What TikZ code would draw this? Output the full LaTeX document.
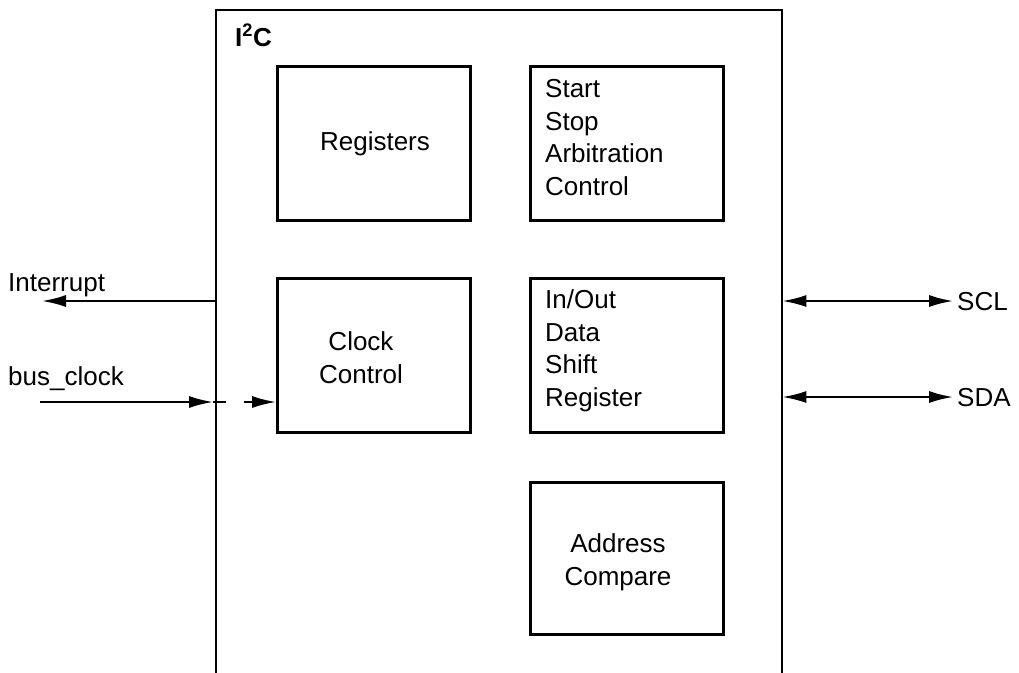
\documentclass[tikz,border=0pt]{standalone}
\usepackage{fontspec}
\setmainfont{Liberation Sans}
\usetikzlibrary{arrows.meta}
\begin{document}
\begin{tikzpicture}[x=1pt,y=-1pt,
  every node/.style={font=\fontsize{26}{32.5}\selectfont},
  blk/.style={draw, line width=3pt, minimum width=193pt, inner sep=0pt},
  txt/.style={inner sep=0pt, align=left},
  ctxt/.style={inner sep=0pt, align=center},
  wire/.style={line width=2pt},
  tip/.style={-{Latex[length=24pt,width=12pt]}},
  dtip/.style={{Latex[length=24pt,width=12pt]}-{Latex[length=24pt,width=12pt]}}]
\useasboundingbox (0,0) rectangle (1019,672);
% outer block (open at the bottom)
\node[inner sep=0pt, minimum width=566pt, minimum height=680pt, anchor=north west] (outer) at (216,10) {};
\draw[wire] (outer.south west) |- (outer.north east) -- (outer.south east);
\node[inner sep=0pt, anchor=base west, font=\bfseries\fontsize{26}{30}\selectfont] (title) at (235,46) {I\textsuperscript{2}C};
% inner blocks
\node[blk, minimum height=154pt] (reg) at (374,143) {};
\node[blk, minimum height=154pt] (ssa) at (626.5,143) {};
\node[blk, minimum height=154pt] (clk) at (374,355) {};
\node[blk, minimum height=154pt] (io) at (626.5,355) {};
\node[blk, minimum height=152pt] (adr) at (626.5,558) {};
% texts (base anchor = baseline of the last line)
\node[ctxt, anchor=base] (tReg) at (375,150) {Registers};
\node[txt, anchor=base west] (tSsa) at (545,195) {Start\\Stop\\Arbitration\\Control};
\node[ctxt, anchor=base] (tClk) at (361,383) {Clock\\Control};
\node[txt, anchor=base west] (tIo) at (545,406) {In/Out\\Data\\Shift\\Register};
\node[ctxt, anchor=base] (tAdr) at (618,585) {Address\\Compare};
% signals
\node[txt, anchor=base west] (lInt) at (8,291) {Interrupt};
\node[txt, anchor=base west] (lBus) at (8,385) {bus\_clock};
\node[txt, anchor=base west] (lScl) at (957,310) {SCL};
\node[txt, anchor=base west] (lSda) at (957,406) {SDA};
\coordinate (intEnd) at (42,301);
\coordinate (busStart) at (40,402);
\coordinate (sclEnd) at (953,301);
\coordinate (sdaEnd) at (953,397);
\draw[wire, tip] (intEnd -| outer.west) -- (intEnd);
\draw[wire, tip, shorten >=3pt] (busStart) -- (busStart -| outer.west);
\draw[wire] ([xshift=-3pt]busStart -| outer.west) -- ([xshift=10pt]busStart -| outer.west);
\draw[wire, tip] ([xshift=28pt]busStart -| outer.west) -- (busStart -| clk.west);
\draw[wire, dtip] (sclEnd -| outer.east) -- (sclEnd);
\draw[wire, dtip] (sdaEnd -| outer.east) -- (sdaEnd);
\end{tikzpicture}
\end{document}
